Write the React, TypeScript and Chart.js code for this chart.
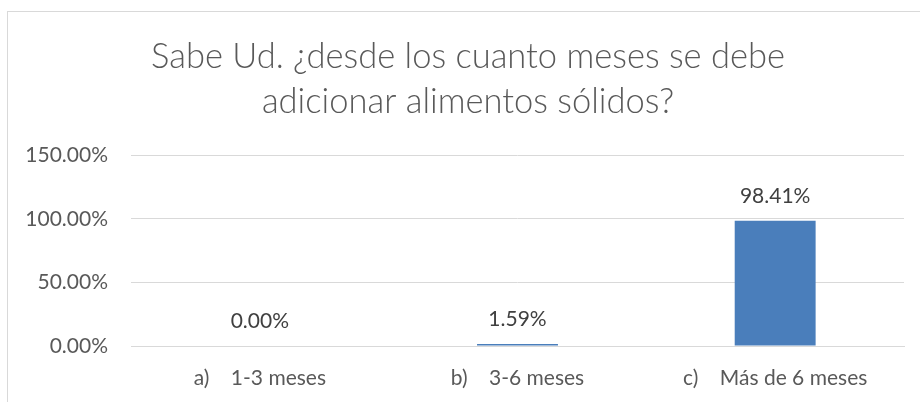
import React, { useEffect, useRef } from "react";
import { Chart, registerables } from "chart.js";

Chart.register(...registerables);

const titleLines = ["Sabe Ud. ¿desde los cuanto meses se debe", "adicionar alimentos sólidos?"];
const categories = ["a)    1-3 meses", "b)    3-6 meses", "c)    Más de 6 meses"];
const values = [0, 1.59, 98.41];
const yMin = 0;
const yMax = 150;
const yStep = 50;

const FONT = "Lato, 'Open Sans', sans-serif";

const dataLabelPlugin = {
  id: "dataLabels",
  afterDatasetsDraw(chart: any) {
    const ctx = chart.ctx;
    const meta = chart.getDatasetMeta(0);
    ctx.save();
    ctx.font = `21px ${FONT}`;
    ctx.fillStyle = "#404040";
    ctx.textAlign = "center";
    ctx.textBaseline = "middle";
    meta.data.forEach((el: any, i: number) => {
      ctx.fillText(values[i].toFixed(2) + "%", el.x, el.y - 25);
    });
    ctx.restore();
  },
};

export default function App() {
  const ref = useRef<HTMLCanvasElement | null>(null);
  useEffect(() => {
    if (!ref.current) return;
    const chart = new Chart(ref.current, {
      type: "bar",
      data: {
        labels: categories,
        datasets: [
          {
            data: values,
            backgroundColor: "#4A7EBB",
            categoryPercentage: 1,
            barPercentage: 0.314,
            yAxisID: "y",
          },
        ],
      },
      options: {
        responsive: false,
        animation: false,
        layout: { padding: { left: 0, right: 0, top: 0, bottom: 0 } },
        plugins: {
          legend: { display: false },
          tooltip: { enabled: false },
          title: {
            display: true,
            text: titleLines,
            color: "#595959",
            font: { family: FONT, size: 34.5, weight: "300", lineHeight: 1.3 },
            padding: { top: 22.5, bottom: 31 },
          },
        },
        scales: {
          x: {
            grid: { display: false, drawTicks: false },
            border: { display: true, color: "#d9d9d9", width: 1 },
            ticks: {
              color: "#595959",
              font: { family: FONT, size: 21 },
              padding: 20,
              maxRotation: 0,
              autoSkip: false,
            },
            afterFit: (s: any) => {
              s.height = 66;
            },
          },
          y: {
            min: yMin,
            max: yMax,
            grid: { color: "#d9d9d9", drawTicks: false },
            border: { display: false },
            ticks: {
              stepSize: yStep,
              color: "#595959",
              font: { family: FONT, size: 21 },
              padding: 23,
              callback: (v: any) => Number(v).toFixed(2) + "%",
            },
            afterFit: (s: any) => {
              s.width = 123;
            },
          },
          yRightSpace: {
            type: "linear",
            position: "right",
            min: yMin,
            max: yMax,
            grid: { display: false, drawTicks: false },
            border: { display: false },
            ticks: { display: false },
            afterFit: (s: any) => {
              s.width = 24;
            },
          },
        },
      },
      plugins: [dataLabelPlugin],
    });
    return () => chart.destroy();
  }, []);

  return (
    <div
      style={{
        position: "absolute",
        left: 7,
        top: 11,
        width: 912,
        height: 390,
        overflow: "hidden",
        borderLeft: "1px solid #d9d9d9",
        borderTop: "1px solid #d9d9d9",
        background: "#fff",
      }}
    >
      <canvas ref={ref} width={920} height={400} style={{ display: "block" }} />
    </div>
  );
}
